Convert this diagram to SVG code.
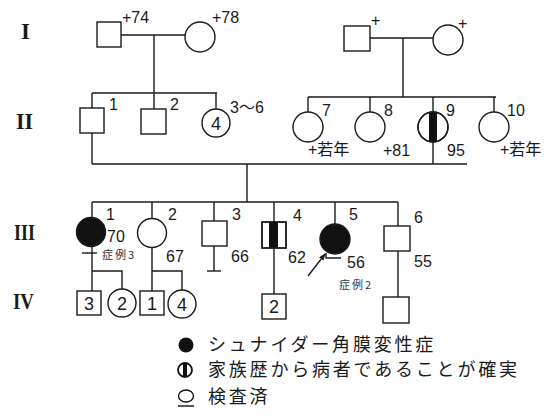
<svg xmlns="http://www.w3.org/2000/svg" width="556" height="417" viewBox="0 0 556 417">
<style>
.s{fill:#fff;stroke:#1a1a1a;stroke-width:1.4}
.f{fill:#111;stroke:#1a1a1a;stroke-width:1.4}
.c line,.c path{stroke:#1a1a1a;stroke-width:1.4;fill:none}
.n{font-family:"Liberation Sans","Noto Sans CJK JP",sans-serif;font-size:16px;fill:#1a1a1a}
.in{font-family:"Liberation Sans",sans-serif;font-size:18px;fill:#1a1a1a;text-anchor:middle}
.sm{font-family:"Noto Sans CJK JP",sans-serif;font-size:11px;fill:#333;letter-spacing:2px}
.r{font-family:"Liberation Serif",serif;font-weight:bold;font-size:24px;fill:#1a1a1a}
.lg{font-family:"Noto Sans CJK JP",sans-serif;font-size:18px;fill:#1a1a1a;letter-spacing:2.8px}
</style>
<defs>
<marker id="ah" viewBox="0 0 10 10" refX="9" refY="5" markerWidth="7" markerHeight="7" orient="auto" markerUnits="userSpaceOnUse">
<path d="M0,1 L10,5 L0,9 z" fill="#1a1a1a"/>
</marker>
</defs>

<g id="generation-labels">
<text class="r" x="21" y="39" textLength="9" lengthAdjust="spacingAndGlyphs">I</text>
<text class="r" x="16" y="129" textLength="17" lengthAdjust="spacingAndGlyphs">II</text>
<text class="r" x="14" y="240" textLength="21" lengthAdjust="spacingAndGlyphs">III</text>
<text class="r" x="13" y="309" textLength="21" lengthAdjust="spacingAndGlyphs">IV</text>
</g>

<g class="c" id="connectors">
<line x1="121" y1="35" x2="185" y2="35"/>
<line x1="154" y1="35" x2="154" y2="93"/>
<line x1="92" y1="93" x2="217" y2="93"/>
<line x1="92" y1="93" x2="92" y2="108"/>
<line x1="154" y1="93" x2="154" y2="109"/>
<line x1="216" y1="93" x2="216" y2="109"/>
<line x1="370" y1="38" x2="433" y2="38"/>
<line x1="403" y1="38" x2="403" y2="97"/>
<line x1="308" y1="97" x2="496" y2="97"/>
<line x1="308" y1="97" x2="308" y2="112"/>
<line x1="370" y1="97" x2="370" y2="112"/>
<line x1="433" y1="97" x2="433" y2="112"/>
<line x1="494" y1="97" x2="494" y2="112"/>
<line x1="92" y1="133" x2="92" y2="164"/>
<line x1="433" y1="142" x2="433" y2="164"/>
<line x1="92" y1="164" x2="467" y2="164"/>
<line x1="247" y1="164" x2="247" y2="202"/>
<line x1="92" y1="202" x2="398" y2="202"/>
<line x1="92" y1="202" x2="92" y2="217"/>
<line x1="152" y1="202" x2="152" y2="219"/>
<line x1="214" y1="202" x2="214" y2="221"/>
<line x1="274" y1="202" x2="274" y2="222"/>
<line x1="335" y1="202" x2="335" y2="224"/>
<line x1="398" y1="202" x2="398" y2="226"/>
<line x1="92" y1="246" x2="92" y2="291"/>
<line x1="82" y1="253" x2="97" y2="253"/>
<path d="M92,271 H122 V289"/>
<line x1="152" y1="248" x2="152" y2="291"/>
<path d="M152,271 H182 V290"/>
<line x1="214" y1="246" x2="214" y2="271"/>
<line x1="207" y1="271" x2="221" y2="271"/>
<line x1="274" y1="248" x2="274" y2="294"/>
<line x1="398" y1="251" x2="398" y2="297"/>
<path d="M326,253 V258 H341"/>
<line x1="308" y1="276" x2="325" y2="254" marker-end="url(#ah)"/>
</g>

<g id="I-1"><rect class="s" x="97" y="22" width="24" height="25"/><text class="n" x="122" y="23">+74</text></g>
<g id="I-2"><circle class="s" cx="200" cy="37" r="15"/><text class="n" x="212" y="23">+78</text></g>
<g id="I-3"><rect class="s" x="344" y="26" width="26" height="25"/><text class="n" x="371" y="26">+</text></g>
<g id="I-4"><circle class="s" cx="448" cy="40" r="15"/><text class="n" x="458" y="29">+</text></g>

<g id="II-1"><rect class="s" x="80" y="108" width="24" height="25"/><text class="n" x="109" y="110">1</text></g>
<g id="II-2"><rect class="s" x="141" y="109" width="25" height="25"/><text class="n" x="170" y="110">2</text></g>
<g id="II-3"><circle class="s" cx="216" cy="123" r="14"/><text class="in" x="216" y="130">4</text><text class="n" x="230" y="113">3〜6</text></g>
<g id="II-7"><circle class="s" cx="308" cy="127" r="15"/><text class="n" x="322" y="116">7</text><text class="n" x="308" y="155">+若年</text></g>
<g id="II-8"><circle class="s" cx="370" cy="127" r="15"/><text class="n" x="384" y="116">8</text><text class="n" x="383" y="156">+81</text></g>
<g id="II-9"><circle class="s" cx="433" cy="127" r="15"/><rect x="429" y="112" width="8" height="30" fill="#111"/><circle cx="433" cy="127" r="15" fill="none" stroke="#1a1a1a" stroke-width="1.4"/><text class="n" x="446" y="116">9</text><text class="n" x="447" y="156">95</text></g>
<g id="II-10"><circle class="s" cx="494" cy="127" r="15"/><text class="n" x="507" y="116">10</text><text class="n" x="500" y="155">+若年</text></g>

<g id="III-1"><circle class="f" cx="91" cy="232" r="14.5"/><text class="n" x="106" y="220">1</text><text class="n" x="107" y="242">70</text><text class="sm" x="102" y="259">症例3</text></g>
<g id="III-2"><circle class="s" cx="152" cy="233" r="14.5"/><text class="n" x="168" y="220">2</text><text class="n" x="166" y="262">67</text></g>
<g id="III-3"><rect class="s" x="202" y="221" width="25" height="25"/><text class="n" x="232" y="220">3</text><text class="n" x="231" y="262">66</text></g>
<g id="III-4"><rect class="s" x="262" y="222" width="24" height="26"/><rect x="269" y="222" width="9" height="26" fill="#111"/><rect x="262" y="222" width="24" height="26" fill="none" stroke="#1a1a1a" stroke-width="1.4"/><text class="n" x="293" y="221">4</text><text class="n" x="288" y="263">62</text></g>
<g id="III-5"><circle class="f" cx="335" cy="239" r="15"/><text class="n" x="349" y="220">5</text><text class="n" x="347" y="268">56</text><text class="sm" x="339" y="289">症例2</text></g>
<g id="III-6"><rect class="s" x="384" y="226" width="26" height="25"/><text class="n" x="414" y="223">6</text><text class="n" x="414" y="267">55</text></g>

<g id="IV-1"><rect class="s" x="77" y="291" width="24" height="24"/><text class="in" x="89" y="310">3</text></g>
<g id="IV-2"><circle class="s" cx="122" cy="303" r="14"/><text class="in" x="122" y="310">2</text></g>
<g id="IV-3"><rect class="s" x="140" y="291" width="24" height="24"/><text class="in" x="152" y="310">1</text></g>
<g id="IV-4"><circle class="s" cx="182" cy="304" r="14"/><text class="in" x="182" y="311">4</text></g>
<g id="IV-5"><rect class="s" x="262" y="294" width="24" height="25"/><text class="in" x="274" y="313">2</text></g>
<g id="IV-6"><rect class="s" x="383" y="297" width="26" height="26"/></g>

<g id="legend">
<circle cx="186" cy="345" r="7.5" fill="#111"/>
<text class="lg" x="208" y="351">シュナイダー角膜変性症</text>
<circle cx="185" cy="370" r="7" fill="#fff" stroke="#111" stroke-width="1.8"/>
<rect x="183" y="363" width="4" height="14" fill="#111"/>
<text class="lg" x="208" y="376">家族歴から病者であることが確実</text>
<ellipse cx="186" cy="396" rx="7.5" ry="6" fill="#fff" stroke="#111" stroke-width="1.4"/>
<line x1="178" y1="406" x2="194" y2="406" stroke="#111" stroke-width="1.4"/>
<text class="lg" x="208" y="403">検査済</text>
</g>
</svg>
